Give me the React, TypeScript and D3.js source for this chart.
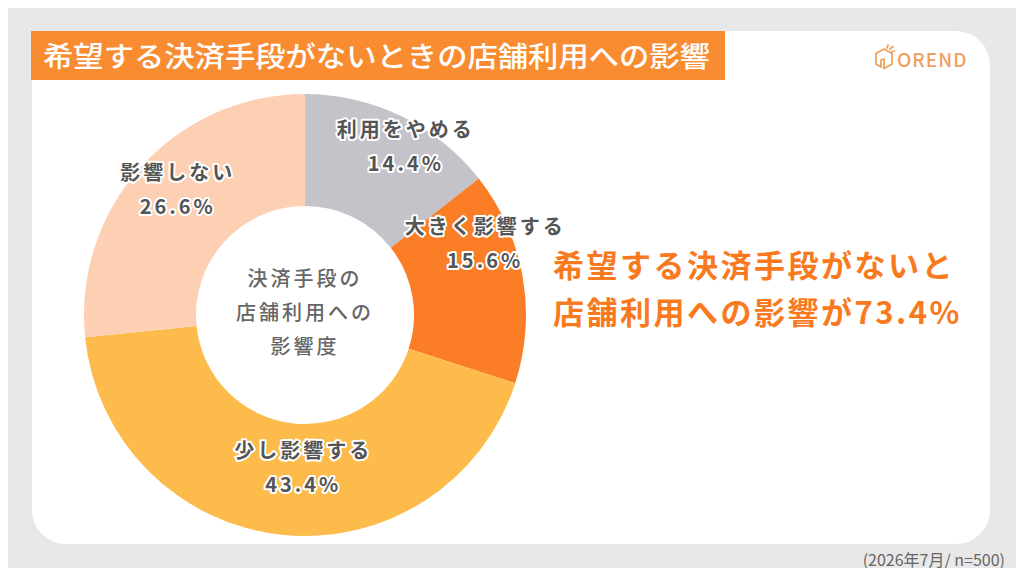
import React, { useEffect, useRef } from 'react';
import * as d3 from 'd3';

const categories = ['利用をやめる', '大きく影響する', '少し影響する', '影響しない'];
const shares = [14.4, 15.6, 43.4, 26.6];
const sliceColors = ['#c5c3ca', '#fb7d25', '#fcbb4b', '#fdd0b4'];
const centerLines = ['決済手段の', '店舗利用への', '影響度'];
const headline = ['希望する決済手段がないと', '店舗利用への影響が73.4%'];
const titleText = '希望する決済手段がないときの店舗利用への影響';
const footnote = '(2026年7月/ n=500)';

// hand nudges for the slice labels (layout only)
const labelNudge: [number, number][] = [[20, -1], [-2, -38], [18, -30], [10, 0]];

const FONT = '"Noto Sans CJK JP", "Noto Sans", sans-serif';

export default function App() {
  const svgRef = useRef<SVGSVGElement>(null);

  useEffect(() => {
    if (!svgRef.current) return;
    const width = 1024;
    const height = 576;
    const svg = d3.select(svgRef.current)
      .attr('viewBox', [0, 0, width, height])
      .attr('width', width)
      .attr('height', height)
      .style('font-family', FONT);
    svg.selectAll('*').remove();

    svg.append('rect').attr('width', width).attr('height', height).attr('fill', '#e8e8e8');

    // white panel
    svg.append('rect')
      .attr('x', 32).attr('y', 31)
      .attr('width', 958).attr('height', 513)
      .attr('rx', 34)
      .attr('fill', '#ffffff');

    // title banner
    svg.append('rect')
      .attr('x', 31).attr('y', 31)
      .attr('width', 694).attr('height', 49)
      .attr('fill', '#f98b30');
    svg.append('text')
      .attr('x', 43).attr('y', 67)
      .attr('fill', '#ffffff')
      .style('font-size', '28px')
      .style('font-weight', 500)
      .attr('textLength', 667)
      .attr('lengthAdjust', 'spacingAndGlyphs')
      .text(titleText);

    // logo
    const logo = svg.append('g').attr('transform', 'translate(875,45)')
      .attr('fill', 'none').attr('stroke', '#f0a05e').attr('stroke-width', 1.8)
      .attr('stroke-linejoin', 'round').attr('stroke-linecap', 'round');
    logo.append('path').attr('d', 'M9,4 L1,8.5 L1,19 L6,22 L6,15 L9,14 L9,23.5 L17,19 L17,8.5 Z');
    logo.append('path').attr('d', 'M12,3 L13,0 M15,4 L18,1.5 M16,7 L19.5,6');
    svg.append('text')
      .attr('x', 897).attr('y', 67)
      .attr('fill', '#f0a05e')
      .style('font-size', '19px')
      .style('font-weight', 500)
      .style('letter-spacing', '1px')
      .text('OREND');

    // donut
    const cx = 305, cy = 315;
    const outerR = 221, innerR = 109;
    const pie = d3.pie<number>().sort(null).value(d => d);
    const arcs = pie(shares);
    const arc = d3.arc<d3.PieArcDatum<number>>().innerRadius(innerR).outerRadius(outerR);
    const labelArc = d3.arc<d3.PieArcDatum<number>>().innerRadius(185).outerRadius(185);

    const g = svg.append('g').attr('transform', `translate(${cx},${cy})`);
    g.selectAll('path.slice')
      .data(arcs)
      .enter().append('path')
      .attr('class', 'slice')
      .attr('d', arc)
      .attr('fill', (_, i) => sliceColors[i]);

    const labels = g.selectAll('g.label')
      .data(arcs)
      .enter().append('g')
      .attr('class', 'label')
      .attr('transform', (d, i) => {
        const [x, y] = labelArc.centroid(d);
        return `translate(${x + labelNudge[i][0]},${y + labelNudge[i][1]})`;
      });

    const addLine = (sel: any, text: (d: any, i: number) => string, dy: number) => {
      sel.append('text')
        .attr('y', dy)
        .attr('text-anchor', 'middle')
        .style('font-size', '20px')
        .style('font-weight', 700)
        .style('letter-spacing', '3px')
        .attr('fill', '#555555')
        .attr('stroke', '#ffffff')
        .attr('stroke-width', 4)
        .attr('stroke-linejoin', 'round')
        .attr('paint-order', 'stroke')
        .text(text);
    };
    addLine(labels, (_, i) => categories[i], -11);
    addLine(labels, d => `${d.data.toFixed(1)}%`, 23);

    // center text
    g.selectAll('text.center')
      .data(centerLines)
      .enter().append('text')
      .attr('class', 'center')
      .attr('text-anchor', 'middle')
      .attr('y', (_, i) => -29 + i * 34)
      .style('font-size', '20px')
      .style('font-weight', 500)
      .style('letter-spacing', '3px')
      .attr('fill', '#666666')
      .text(d => d);

    // headline
    svg.selectAll('text.headline')
      .data(headline)
      .enter().append('text')
      .attr('class', 'headline')
      .attr('x', 553)
      .attr('y', (_, i) => 277 + i * 47)
      .style('font-size', '31px')
      .style('font-weight', 700)
      .style('letter-spacing', '2.5px')
      .attr('fill', '#f97a1e')
      .text(d => d);

    svg.append('text')
      .attr('x', 1005).attr('y', 566)
      .attr('text-anchor', 'end')
      .style('font-size', '16px')
      .attr('fill', '#666666')
      .text(footnote);
  }, []);

  return (
    <div style={{ width: 1024, height: 576, margin: -8, overflow: 'hidden' }}>
      <svg ref={svgRef} style={{ display: 'block' }}></svg>
    </div>
  );
}
